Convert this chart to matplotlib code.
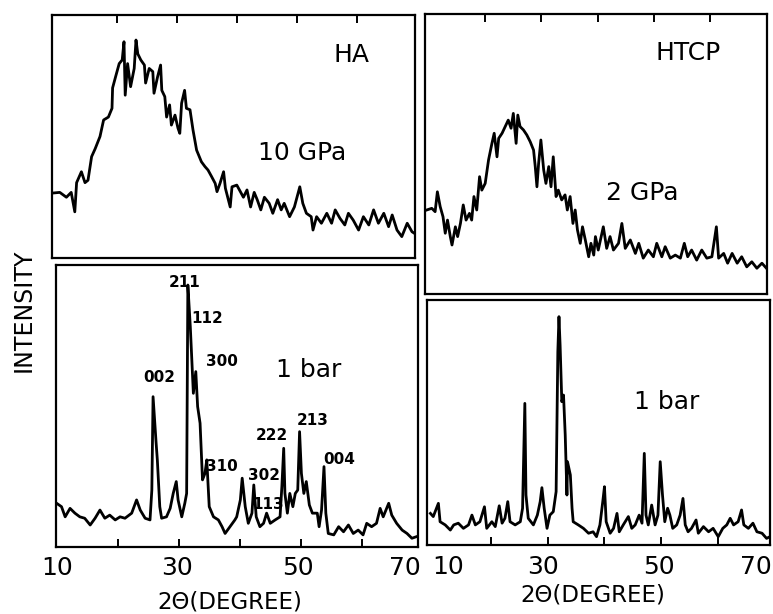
import matplotlib
matplotlib.use("Agg")
import matplotlib.pyplot as plt
from matplotlib.transforms import blended_transform_factory

W, H = 773, 614

# HA, 10 GPa (2theta in degrees, intensity in arbitrary units 0-100)
ha_gpa_2theta = [9.2, 10.5, 11.6, 12.4, 13.0, 13.3, 14.1, 14.7, 15.2, 15.8, 16.4, 17.2,
                 17.8, 18.6, 19.2, 19.3, 19.8, 20.4, 20.9, 21.2, 21.4, 21.8, 22.3, 22.9,
                 23.2, 23.5, 24.0, 24.6, 24.8, 25.4, 26.0, 26.2, 26.8, 27.3, 27.5, 28.0,
                 28.3, 28.8, 29.1, 29.7, 30.2, 30.5, 30.8, 31.3, 31.6, 32.2, 32.7, 33.3,
                 34.1, 34.7, 35.2, 35.8, 36.4, 36.7, 37.2, 37.8, 38.1, 38.9, 39.2, 40.0,
                 41.1, 41.7, 42.3, 42.9, 43.4, 44.0, 44.6, 45.4, 46.0, 46.8, 47.4, 47.9,
                 48.8, 49.6, 50.5, 51.0, 51.6, 52.4, 52.7, 53.3, 54.1, 55.0, 55.8, 56.4,
                 57.2, 58.0, 58.6, 59.4, 60.3, 61.1, 62.0, 62.8, 63.6, 64.5, 65.3, 65.9,
                 66.7, 67.5, 68.4, 69.2, 69.7]
ha_gpa_int = [26.7, 27.0, 25.0, 27.0, 19.0, 31.0, 35.5, 31.0, 32.0, 41.7, 45.0, 50.0,
              56.8, 58.0, 61.6, 70.0, 74.6, 80.0, 81.5, 89.0, 67.0, 80.0, 70.5, 78.0,
              89.7, 84.0, 81.5, 79.4, 72.0, 78.0, 76.7, 67.8, 74.6, 79.4, 69.0, 66.4,
              58.0, 63.0, 54.7, 58.8, 53.4, 51.3, 63.7, 69.0, 61.6, 61.0, 52.7, 44.4,
              39.6, 37.6, 36.2, 33.5, 30.7, 27.3, 30.7, 35.5, 28.7, 21.0, 29.3, 30.0,
              25.0, 28.0, 21.0, 27.0, 24.0, 19.8, 25.0, 22.5, 18.4, 24.0, 19.8, 22.5,
              17.0, 21.0, 29.3, 22.5, 18.4, 17.0, 11.5, 17.0, 14.3, 18.4, 14.3, 19.8,
              16.3, 13.6, 18.4, 15.6, 11.5, 17.0, 13.6, 19.8, 14.3, 18.4, 12.9, 17.7,
              11.5, 8.8, 14.3, 10.8, 10.0]

# HA, 1 bar
ha_bar_2theta = [9.9, 10.7, 11.3, 12.1, 12.9, 13.7, 14.5, 15.4, 16.2, 17.0, 17.8, 18.6,
                 19.5, 20.3, 21.1, 22.2, 23.0, 23.6, 24.4, 25.2, 25.5, 25.7, 26.2, 26.4,
                 26.8, 27.1, 27.9, 28.5, 29.0, 29.5, 29.8, 30.4, 30.9, 31.2, 31.4, 31.8,
                 32.0, 32.3, 32.7, 33.0, 33.4, 33.8, 34.2, 34.5, 34.9, 35.6, 36.4, 37.0,
                 37.5, 38.3, 39.1, 39.4, 40.0, 40.3, 40.8, 41.3, 41.9, 42.2, 42.6, 43.2,
                 43.8, 44.3, 44.9, 45.7, 46.5, 46.8, 47.1, 47.3, 47.7, 48.1, 48.6, 49.0,
                 49.4, 49.7, 50.0, 50.4, 50.8, 51.3, 51.8, 52.6, 52.9, 53.3, 53.7, 54.0,
                 54.4, 55.3, 56.1, 56.9, 57.7, 58.5, 59.3, 60.1, 60.7, 61.5, 62.3, 62.9,
                 63.4, 64.3, 64.8, 65.6, 66.5, 67.3, 68.1, 68.9]
ha_bar_int = [15.5, 14.3, 10.7, 13.7, 12.0, 10.7, 10.2, 7.8, 10.2, 13.1, 10.2, 11.3,
              9.6, 10.7, 10.2, 12.0, 16.7, 13.1, 10.2, 9.6, 20.2, 53.3, 36.9, 30.9,
              14.3, 10.2, 10.7, 13.7, 19.0, 23.2, 16.7, 10.7, 15.5, 19.0, 92.9, 78.1,
              68.7, 54.5, 62.2, 49.8, 43.9, 23.8, 26.1, 30.9, 14.3, 10.7, 9.6, 7.2,
              4.8, 7.2, 9.6, 10.7, 16.7, 24.4, 14.3, 8.4, 12.0, 22.0, 10.7, 7.2,
              8.4, 12.0, 8.4, 9.6, 10.7, 21.4, 35.0, 19.0, 12.0, 19.0, 14.3, 19.0,
              20.2, 40.9, 26.1, 19.0, 23.2, 14.9, 12.0, 12.0, 7.2, 13.1, 28.5, 12.0,
              4.8, 4.3, 7.2, 5.4, 7.8, 4.8, 6.0, 4.3, 8.4, 7.2, 8.4, 13.7,
              10.7, 15.5, 11.3, 8.4, 6.0, 4.8, 3.1, 3.7]

# HTCP, 2 GPa
htcp_gpa_2theta = [9.6, 10.5, 11.1, 11.5, 12.0, 12.5, 12.9, 13.3, 13.8, 14.1, 14.7, 15.1,
                   15.6, 16.1, 16.6, 17.2, 17.6, 18.0, 18.5, 19.0, 19.4, 20.0, 20.6, 21.2,
                   21.6, 22.1, 22.4, 23.0, 23.7, 24.1, 24.6, 25.0, 25.5, 25.8, 26.2, 26.8,
                   27.4, 28.0, 28.6, 28.9, 29.2, 29.5, 29.9, 30.4, 30.8, 31.3, 31.7, 32.1,
                   32.6, 33.0, 33.6, 34.2, 34.6, 35.1, 35.6, 36.0, 36.4, 36.9, 37.3, 37.8,
                   38.4, 38.8, 39.3, 39.6, 40.1, 41.0, 41.6, 42.2, 42.8, 43.7, 44.3, 44.9,
                   45.8, 46.7, 47.3, 48.1, 49.0, 49.9, 50.5, 51.4, 52.0, 52.9, 53.8, 54.7,
                   55.4, 56.0, 56.7, 57.6, 58.5, 59.4, 60.3, 61.1, 61.5, 62.4, 63.1, 63.9,
                   64.8, 65.6, 66.5, 67.4, 68.3, 69.2, 70.0]
htcp_gpa_int = [30.0, 30.6, 29.4, 36.5, 31.2, 27.6, 21.7, 26.4, 20.5, 17.5, 24.0, 20.5,
                25.2, 31.8, 26.4, 28.8, 26.4, 34.8, 30.0, 41.9, 37.1, 39.5, 47.9, 53.8,
                57.4, 49.0, 55.6, 57.4, 60.4, 62.1, 59.2, 64.5, 53.8, 63.9, 59.8, 58.6,
                56.8, 54.4, 51.4, 45.5, 38.3, 46.7, 55.0, 44.3, 39.5, 45.5, 38.3, 49.0,
                34.8, 37.1, 33.6, 35.4, 30.0, 34.8, 25.2, 30.0, 22.9, 18.1, 24.0, 19.3,
                13.3, 18.1, 13.9, 20.5, 15.7, 24.0, 16.3, 20.5, 15.7, 18.1, 25.2, 16.3,
                19.3, 14.5, 18.1, 12.8, 15.7, 13.3, 18.1, 13.3, 16.9, 12.8, 13.9, 12.8,
                18.1, 13.3, 15.7, 12.1, 15.7, 12.8, 13.3, 24.0, 12.8, 14.5, 11.0, 14.5,
                11.0, 13.3, 9.7, 11.5, 9.2, 11.0, 9.2]

# HTCP, 1 bar
htcp_bar_2theta = [9.4, 9.9, 10.8, 11.1, 12.0, 12.9, 13.5, 14.3, 15.2, 16.1, 16.7, 17.3,
                   18.1, 18.9, 19.3, 20.2, 20.8, 21.5, 22.0, 22.5, 23.0, 23.4, 24.3, 25.2,
                   25.6, 26.0, 26.2, 26.6, 27.5, 28.2, 28.7, 29.0, 29.4, 29.9, 30.4, 31.0,
                   31.5, 31.8, 32.0, 32.2, 32.5, 32.8, 33.1, 33.4, 33.5, 34.0, 34.3, 34.5,
                   35.4, 36.3, 37.2, 38.0, 38.6, 39.2, 39.7, 40.0, 40.3, 41.0, 41.6, 42.2,
                   42.6, 43.3, 44.2, 44.8, 45.4, 46.1, 46.6, 47.0, 47.3, 47.7, 48.3, 48.9,
                   49.4, 49.8, 50.2, 50.6, 51.1, 51.5, 52.0, 52.7, 53.3, 53.8, 54.2, 54.7,
                   55.3, 56.1, 56.5, 57.4, 58.3, 59.1, 60.0, 60.8, 61.5, 62.1, 62.7, 63.5,
                   64.1, 64.5, 65.3, 66.1, 66.8, 67.7, 68.5, 69.1]
htcp_bar_int = [12.9, 11.6, 17.0, 9.5, 8.2, 6.1, 8.2, 8.9, 6.8, 8.2, 12.2, 8.2,
                9.5, 15.6, 6.8, 9.5, 7.5, 16.0, 8.9, 10.9, 17.7, 9.5, 8.2, 9.5,
                15.0, 57.8, 20.4, 10.9, 8.2, 12.2, 17.7, 23.4, 15.0, 6.8, 12.2, 13.6,
                21.8, 78.9, 93.2, 81.6, 58.5, 61.2, 44.9, 20.4, 34.0, 28.6, 15.0, 9.5,
                8.2, 6.8, 4.8, 5.4, 3.4, 8.2, 17.7, 23.8, 9.5, 4.8, 6.8, 12.9,
                5.4, 8.2, 11.6, 6.8, 8.2, 12.2, 8.9, 37.4, 12.2, 8.2, 16.3, 8.2,
                12.2, 34.0, 20.4, 9.5, 15.0, 12.2, 6.8, 8.2, 12.2, 19.0, 8.2, 5.4,
                6.8, 10.2, 4.8, 7.5, 5.4, 6.8, 3.4, 6.8, 8.2, 10.9, 8.2, 9.5,
                14.3, 8.2, 6.8, 8.9, 5.4, 4.8, 2.7, 3.4]

# Miller indices on the HA 1 bar pattern
hkl_labels = ["211", "112", "300", "002", "310", "302", "113", "222", "213", "004"]
hkl_pos = [(30.8, 93.8), (34.5, 81.0), (37.0, 65.7), (26.7, 60.0), (37.0, 28.7),
           (43.8, 25.2), (44.6, 15.2), (45.1, 39.4), (51.8, 45.0), (56.2, 31.0)]

tick_marks = [20, 30, 40, 50, 60]
tick_labels = ["10", "30", "50", "70"]
tick_label_x_left = [10.0, 29.6, 49.5, 67.0]
tick_label_x_right = [12.5, 29.2, 49.6, 66.6]


def panel(fig, x0, y0, x1, y1, xlim):
    ax = fig.add_axes([x0 / W, 1 - y1 / H, (x1 - x0) / W, (y1 - y0) / H])
    ax.set_xlim(*xlim)
    ax.set_ylim(0, 100)
    ax.set_yticks([])
    for s in ax.spines.values():
        s.set_linewidth(1.6)
    ax.set_xticks(tick_marks)
    ax.set_xticklabels([])
    return ax


fig = plt.figure(figsize=(W / 100, H / 100), dpi=100)

ax_a = panel(fig, 52, 15, 415, 258, (9.2, 69.7))
ax_b = panel(fig, 56, 265, 418, 547, (9.8, 69.1))
ax_c = panel(fig, 425, 14, 767, 294, (9.3, 70.1))
ax_d = panel(fig, 427, 300, 770, 545, (8.8, 69.1))

for ax in (ax_a, ax_c):
    ax.tick_params(axis="x", direction="in", top=True, bottom=False,
                   length=6, width=1.4)
for ax in (ax_b, ax_d):
    ax.tick_params(axis="x", direction="in", top=False, bottom=True,
                   length=6, width=1.4)

lw = 2.0
ax_a.plot(ha_gpa_2theta, ha_gpa_int, color="black", lw=lw)
ax_b.plot(ha_bar_2theta, ha_bar_int, color="black", lw=lw)
ax_c.plot(htcp_gpa_2theta, htcp_gpa_int, color="black", lw=lw)
ax_d.plot(htcp_bar_2theta, htcp_bar_int, color="black", lw=lw)

ax_a.text(0.826, 0.835, "HA", transform=ax_a.transAxes, fontsize=18,
          ha="center", va="center")
ax_a.text(0.688, 0.431, "10 GPa", transform=ax_a.transAxes, fontsize=18,
          ha="center", va="center")
ax_c.text(0.77, 0.86, "HTCP", transform=ax_c.transAxes, fontsize=18,
          ha="center", va="center")
ax_c.text(0.634, 0.36, "2 GPa", transform=ax_c.transAxes, fontsize=18,
          ha="center", va="center")
ax_b.text(0.697, 0.628, "1 bar", transform=ax_b.transAxes, fontsize=18,
          ha="center", va="center")
ax_d.text(0.699, 0.585, "1 bar", transform=ax_d.transAxes, fontsize=18,
          ha="center", va="center")

for lab, (x, y) in zip(hkl_labels, hkl_pos):
    ax_b.text(x, y, lab, fontsize=11, fontweight="bold", ha="center", va="center")

for ax, xs, ypos in ((ax_b, tick_label_x_left, -0.075), (ax_d, tick_label_x_right, -0.09)):
    tr = blended_transform_factory(ax.transData, ax.transAxes)
    for x, lab in zip(xs, tick_labels):
        ax.text(x, ypos, lab, transform=tr, fontsize=18, ha="center", va="center",
                clip_on=False)

fig.text(230 / W, 1 - 602 / H, "2Θ(DEGREE)", fontsize=16.5, ha="center", va="center")
fig.text(593 / W, 1 - 595 / H, "2Θ(DEGREE)", fontsize=16.5, ha="center", va="center")
fig.text(24 / W, 1 - 310 / H, "INTENSITY", fontsize=17, rotation=90,
         ha="center", va="center")

fig.savefig("out.png", dpi=100)
